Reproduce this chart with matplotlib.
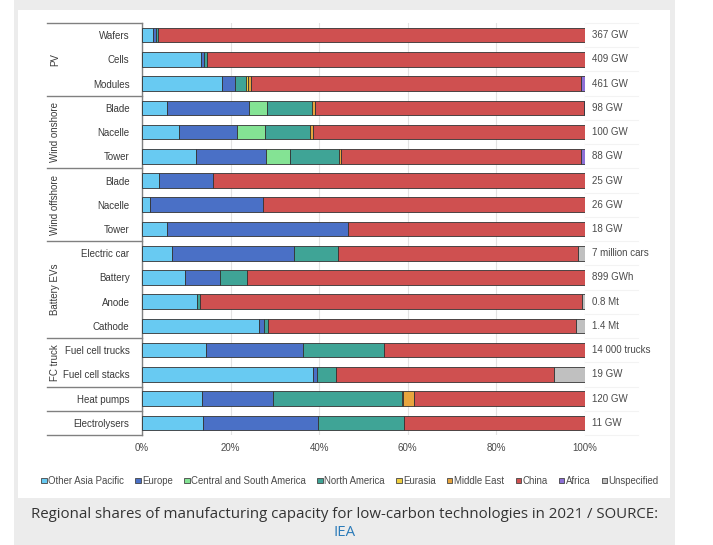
import matplotlib.pyplot as plt
from matplotlib.patches import Rectangle, Patch

plt.rcParams["font.family"] = ["Liberation Sans", "DejaVu Sans"]

categories = ["Wafers", "Cells", "Modules", "Blade", "Nacelle", "Tower",
              "Blade", "Nacelle", "Tower", "Electric car", "Battery", "Anode",
              "Cathode", "Fuel cell trucks", "Fuel cell stacks", "Heat pumps",
              "Electrolysers"]
totals = ["367 GW", "409 GW", "461 GW", "98 GW", "100 GW", "88 GW", "25 GW",
          "26 GW", "18 GW", "7 million cars", "899 GWh", "0.8 Mt", "1.4 Mt",
          "14 000 trucks", "19 GW", "120 GW", "11 GW"]
groups = [("PV", 0, 2), ("Wind onshore", 3, 5), ("Wind offshore", 6, 8),
          ("Battery EVs", 9, 12), ("FC truck", 13, 14), ("", 15, 15), ("", 16, 16)]
ticks = [0, 20, 40, 60, 80, 100]

# shares in %
other_asia = [2.5, 13.4, 18.1, 5.7, 8.3, 12.2, 3.9, 1.8, 5.6, 6.8, 9.7, 12.5, 26.3, 14.4, 38.7, 13.6, 13.8]
europe = [0.6, 0.6, 2.8, 18.5, 13.1, 15.8, 12.1, 25.6, 41.0, 27.4, 7.8, 0, 1.2, 22.0, 0.7, 15.9, 26.0]
csa = [0, 0, 0, 4.0, 6.4, 5.3, 0, 0, 0, 0, 0, 0, 0, 0, 0, 0, 0]
north_america = [0.5, 0.6, 2.5, 10.1, 10.1, 11.1, 0, 0, 0, 10.0, 6.3, 0.6, 0.9, 18.2, 4.5, 29.1, 19.3]
eurasia = [0, 0, 0.5, 0, 0, 0, 0, 0, 0, 0, 0, 0, 0, 0, 0, 0.3, 0]
middle_east = [0, 0, 0.6, 0.8, 0.6, 0.5, 0, 0, 0, 0, 0, 0, 0, 0, 0, 2.5, 0]
china = [96.4, 85.4, 74.7, 60.6, 61.5, 54.3, 84.0, 72.6, 53.4, 54.3, 76.2, 86.3, 69.5, 45.4, 49.1, 38.6, 40.9]
africa = [0, 0, 0.8, 0.3, 0, 0.8, 0, 0, 0, 0, 0, 0, 0, 0, 0, 0, 0]
unspecified = [0, 0, 0, 0, 0, 0, 0, 0, 0, 1.5, 0, 0.6, 2.1, 0, 7.0, 0, 0]

series = [
    ("Other Asia Pacific", other_asia, "#68caf2"),
    ("Europe", europe, "#4a70c6"),
    ("Central and South America", csa, "#84e394"),
    ("North America", north_america, "#3fa496"),
    ("Eurasia", eurasia, "#f0d040"),
    ("Middle East", middle_east, "#e8a53e"),
    ("China", china, "#cf5050"),
    ("Africa", africa, "#8d70d6"),
    ("Unspecified", unspecified, "#c0c0c0"),
]

W, H = 713, 545
fig = plt.figure(figsize=(W / 100, H / 100), dpi=100)
fig.patch.set_facecolor("white")


def px_rect(x0, y0, x1, y1, color):
    fig.patches.append(Rectangle((x0 / W, 1 - y1 / H), (x1 - x0) / W, (y1 - y0) / H,
                                 transform=fig.transFigure, facecolor=color,
                                 edgecolor="none", zorder=-10))


px_rect(14, 0, 675, 545, "#ececec")
px_rect(18, 10, 670, 498, "white")

ax = fig.add_axes([142 / W, 1 - 435 / H, (585 - 142) / W, (435 - 23) / H])
ax.set_facecolor("none")

n = len(categories)
y = list(range(n))
left = [0.0] * n
for name, vals, color in series:
    lw = [0.6 if v > 0 else 0 for v in vals]
    ax.barh(y, vals, left=left, height=0.6, color=color, edgecolor="#333333",
            linewidth=lw, zorder=3, label=name)
    left = [l + v for l, v in zip(left, vals)]

ax.set_xlim(0, 100)
ax.set_ylim(n - 0.5, -0.5)
ax.set_xticks(ticks)
ax.set_xticklabels([f"{t}%" for t in ticks], fontsize=7, color="#4a4a4a")
ax.set_yticks(y)
ax.set_yticklabels(categories, fontsize=7, color="#3a3a3a")
ax.tick_params(axis="both", length=0)
ax.tick_params(axis="y", pad=9)
ax.tick_params(axis="x", pad=6)
ax.grid(axis="x", color="#e3e3e3", linewidth=0.8, zorder=0)
for s in ["top", "right", "bottom"]:
    ax.spines[s].set_visible(False)
ax.spines["left"].set_color("#808080")
ax.spines["left"].set_linewidth(1.0)

# group table on the left
x_line = (47 - 142) / (585 - 142)
bounds = sorted({g[1] - 0.5 for g in groups} | {g[2] + 0.5 for g in groups})
trans = ax.get_yaxis_transform()
for b in bounds:
    ax.plot([x_line, 0], [b, b], color="#808080", linewidth=1.0, transform=trans,
            clip_on=False)
x_grp = (55 - 142) / (585 - 142)
for name, a, b in groups:
    if name:
        ax.text(x_grp, (a + b) / 2, name, rotation=90, ha="center", va="center",
                fontsize=7, color="#3a3a3a", transform=trans)

# faint row lines and totals on the right
for i in range(n + 1):
    ax.plot([1.0, 1.12], [i - 0.5, i - 0.5], color="#f3f3f3", linewidth=0.8,
            transform=trans, clip_on=False)
for i, t in enumerate(totals):
    ax.text(1.016, i, t, ha="left", va="center", fontsize=7, color="#4a4a4a",
            transform=trans)

handles = [Patch(facecolor=c, edgecolor="#444444", linewidth=0.6, label=nm)
           for nm, _, c in series]
fig.legend(handles=handles, loc="center", bbox_to_anchor=(350 / W, 1 - 481 / H),
           ncol=len(series), frameon=False, fontsize=6.9, handlelength=0.55,
           handleheight=0.55, handletextpad=0.15, columnspacing=1.2,
           labelcolor="#4a4a4a")

fig.text(345 / W, 1 - 515 / H,
         "Regional shares of manufacturing capacity for low-carbon technologies in 2021 / SOURCE:",
         ha="center", va="center", fontsize=10.8, family=["Open Sans", "DejaVu Sans"],
         color="#333333")
fig.text(345 / W, 1 - 533 / H, "IEA", ha="center", va="center", fontsize=10.8,
         family=["Open Sans", "DejaVu Sans"], color="#2b7bb9")

fig.savefig("out.png", dpi=100)
